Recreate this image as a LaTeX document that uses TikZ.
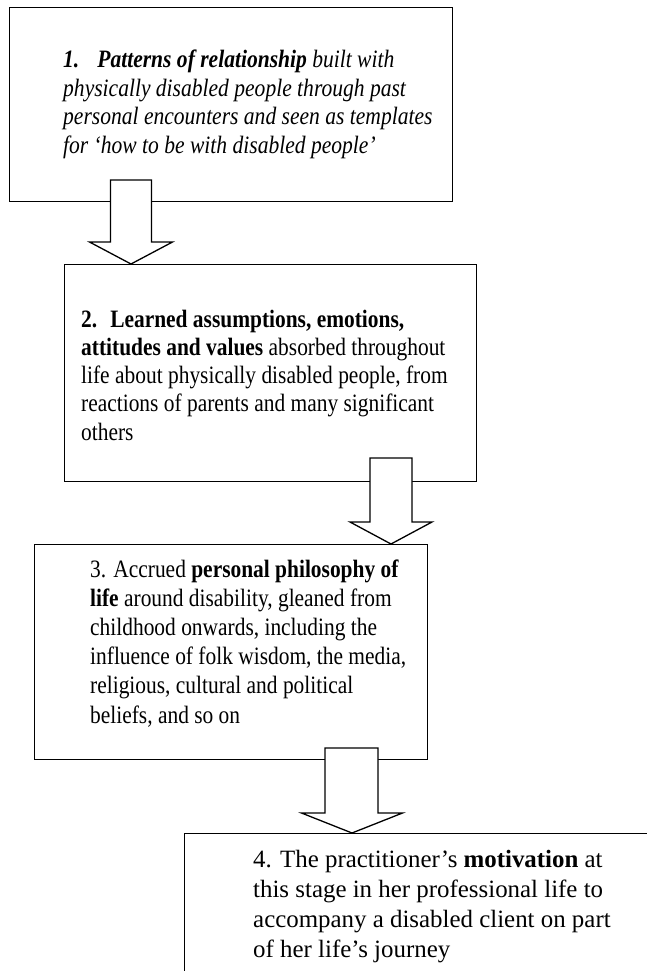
\documentclass[tikz,border=0pt]{standalone}
\usepackage{fontspec}
\setmainfont{Liberation Serif}
\newfontfamily\condA[FakeStretch=0.862]{Liberation Serif}
\newfontfamily\condB[FakeStretch=0.857]{Liberation Serif}
\usetikzlibrary{calc}
\tikzset{
  box/.style={draw, line width=1.3pt, rectangle, inner sep=0pt, anchor=north west},
  barrow/.style={draw, fill=white, line width=1.3pt, line join=miter},
  txt/.style={anchor=base west, inner sep=0pt},
}
\newcommand\linesbox[2]{\vtop{\baselineskip=#1pt\lineskiplimit=-20pt\halign{##\hfil\cr#2\crcr}}}
\begin{document}
\begin{tikzpicture}[x=1pt,y=-1pt]
\useasboundingbox (0,0) rectangle (647,971);
\clip (0,0) rectangle (647,971);
% boxes
\node[box, minimum width=443pt, minimum height=194pt] (b1) at (9,7) {};
\node[box, minimum width=412pt, minimum height=217pt] (b2) at (64,264) {};
\node[box, minimum width=393pt, minimum height=215pt] (b3) at (34,544) {};
\node[box, minimum width=500pt, minimum height=200pt] (b4) at (184,833) {};
% block arrows (tip on the top edge of the next box)
\coordinate (tip1) at ([xshift=67pt]b2.north west);
\coordinate (tip2) at ([xshift=357pt]b3.north west);
\coordinate (tip3) at ([xshift=168pt]b4.north west);
\draw[barrow] (tip1) -- ++(41.5,-22) -- ++(-21,0) -- ++(0,-62) -- ++(-41,0) -- ++(0,62) -- ++(-21,0) -- cycle;
\draw[barrow] (tip2) -- ++(41,-22) -- ++(-20,0) -- ++(0,-64) -- ++(-42,0) -- ++(0,64) -- ++(-20,0) -- cycle;
\draw[barrow] (tip3) -- ++(50.5,-20) -- ++(-24.5,0) -- ++(0,-65) -- ++(-53,0) -- ++(0,65) -- ++(-23.5,0) -- cycle;
% texts
\node[txt, font=\condA\fontsize{25}{28}\selectfont] (t1) at (63,68) {\linesbox{28.4}{%
\textbf{\textit{1.\hspace{18pt}Patterns of relationship}} \textit{built with}\cr
\textit{physically disabled people through past}\cr
\textit{personal encounters and seen as templates}\cr
\textit{for ‘how to be with disabled people’}}};
\node[txt, font=\condB\fontsize{25}{28}\selectfont] (t2) at (81,327) {\linesbox{28.3}{%
\textbf{2.\hspace{13pt}Learned assumptions, emotions,}\cr
\textbf{attitudes and values} absorbed throughout\cr
life about physically disabled people, from\cr
reactions of parents and many significant\cr
others}};
\node[txt, font=\condB\fontsize{25}{28}\selectfont] (t3) at (90,577) {\linesbox{29.2}{%
3. Accrued \textbf{personal philosophy of}\cr
\textbf{life} around disability, gleaned from\cr
childhood onwards, including the\cr
influence of folk wisdom, the media,\cr
religious, cultural and political\cr
beliefs, and so on}};
\node[txt, font=\fontsize{24.9}{28}\selectfont] (t4) at (253,867) {\linesbox{30.3}{%
4. The practitioner’s \textbf{motivation} at\cr
this stage in her professional life to\cr
accompany a disabled client on part\cr
of her life’s journey}};
\end{tikzpicture}
\end{document}
